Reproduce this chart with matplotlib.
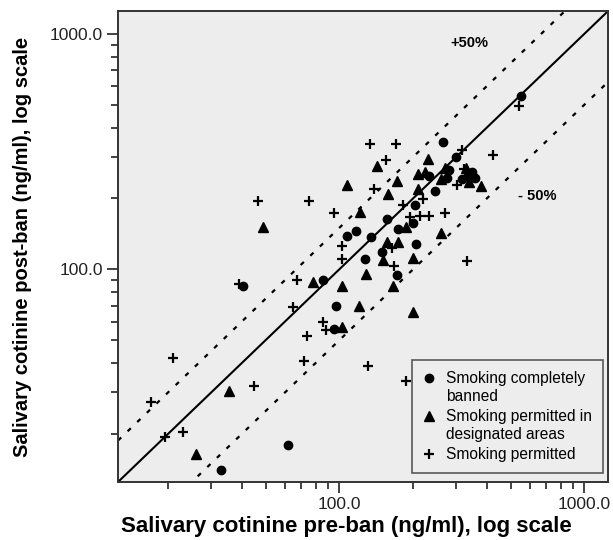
import matplotlib
matplotlib.use("Agg")
import matplotlib.pyplot as plt
import numpy as np
from matplotlib.ticker import FuncFormatter, NullFormatter
from matplotlib.legend_handler import HandlerLine2D

plt.rcParams['font.family'] = ['Liberation Sans', 'DejaVu Sans']

# values (ng/ml)
banned_x = [550, 264, 300, 245, 203, 156, 173, 199, 108, 117, 205, 127, 149, 172,
            86, 97, 95, 40.5, 62, 33, 335, 349, 318, 359, 135, 281, 274, 233]
banned_y = [545, 348, 300, 216, 188, 164, 149, 158, 139, 145, 128, 111, 118, 95,
            90, 70, 56, 85, 18, 14, 250, 258, 241, 245, 137, 265, 245, 250]

areas_x = [49, 107, 143, 172, 231, 158, 121, 209, 188, 156, 173, 199, 261, 379,
           129, 78, 103, 120, 165, 199, 103, 151, 35.5, 26, 259, 330, 339, 209, 223, 269]
areas_y = [152, 227, 276, 238, 295, 208, 176, 220, 152, 130, 130, 112, 142, 225,
           96, 88, 85, 70, 85, 66, 57, 110, 30.4, 16.4, 243, 270, 234, 253, 260, 270]

permitted_x = [46.5, 75.5, 134, 170, 155, 139, 95, 103, 103, 167, 164, 333, 424, 540,
               318, 182, 219, 213, 233, 271, 194, 303, 324, 86, 88, 74, 71.5, 131,
               187, 21, 17, 19.4, 23, 45, 65, 67, 39]
permitted_y = [196, 196, 342, 342, 290, 220, 174, 126, 111, 103, 123, 108, 307, 495,
               322, 187, 198, 169, 169, 173, 166, 229, 268, 60, 55, 52, 41, 39,
               33.5, 42, 27.3, 19.4, 20.4, 32, 69, 90, 87]

lims = [12.5, 1250]


class FirstLineHandler(HandlerLine2D):
    # put the marker next to the first line of a two-line label
    def create_artists(self, legend, orig_handle, xdescent, ydescent,
                       width, height, fontsize, trans):
        arts = super().create_artists(legend, orig_handle, xdescent, ydescent,
                                      width, height, fontsize, trans)
        for a in arts:
            a.set_ydata(np.asarray(a.get_ydata()) + 0.65 * fontsize)
        return arts


fig = plt.figure(figsize=(6.13, 5.40), dpi=100)
ax = fig.add_axes([0.1925, 0.1074, 0.7995, 0.8722])
ax.set_facecolor('#ededed')

ax.set_xscale('log')
ax.set_yscale('log')

# reference lines: identity, +50% and -50%
ax.plot(lims, lims, color='black', lw=1.5, zorder=2)
ax.plot(lims, [v * 1.5 for v in lims], color='black', lw=1.6,
        linestyle=(0, (2, 4)), zorder=2)
ax.plot(lims, [v * 0.5 for v in lims], color='black', lw=1.6,
        linestyle=(0, (2, 4)), zorder=2)

h1, = ax.plot(banned_x, banned_y, 'o', color='black', markersize=6,
              label='Smoking completely\nbanned', zorder=3)
h2, = ax.plot(areas_x, areas_y, '^', color='black', markersize=6.5,
              label='Smoking permitted in\ndesignated areas', zorder=3)
h3, = ax.plot(permitted_x, permitted_y, '+', color='black', markersize=7.5,
              markeredgewidth=1.6, label='Smoking permitted', zorder=3)

ax.set_xlim(lims)
ax.set_ylim(lims)

fmt = FuncFormatter(lambda v, p: '%.1f' % v)
ax.xaxis.set_major_formatter(fmt)
ax.yaxis.set_major_formatter(fmt)
ax.xaxis.set_minor_formatter(NullFormatter())
ax.yaxis.set_minor_formatter(NullFormatter())
ax.tick_params(which='major', length=8, width=1.2, labelsize=12.5, pad=3, colors='#222222')
ax.tick_params(which='minor', length=5, width=1.2, colors='#222222')

for s in ax.spines.values():
    s.set_linewidth(1.4)
    s.set_color('#333333')

ax.text(339, 916, '+50%', fontsize=10.5, fontweight='bold', ha='center', va='center')
ax.text(640, 204, '- 50%', fontsize=10.5, fontweight='bold', ha='center', va='center')

ax.set_xlabel('Salivary cotinine pre-ban (ng/ml), log scale', fontsize=16,
              fontweight='bold')
ax.set_ylabel('Salivary cotinine post-ban (ng/ml), log scale', fontsize=14.5,
              fontweight='bold')
ax.xaxis.set_label_coords(0.465, -0.072)
ax.yaxis.set_label_coords(-0.175, 0.5)

leg = ax.legend(loc='lower right', bbox_to_anchor=(0.99, 0.019), borderaxespad=0,
                fancybox=False, frameon=True, fontsize=11.2, handlelength=0.8,
                handletextpad=0.7, labelspacing=0.3, borderpad=0.7,
                facecolor='#ededed', edgecolor='#333333',
                handler_map={h1: FirstLineHandler(), h2: FirstLineHandler()})
leg.get_frame().set_linewidth(1.2)
for t in leg.get_texts():
    t.set_linespacing(1.3)

fig.savefig('out.png', dpi=100)
